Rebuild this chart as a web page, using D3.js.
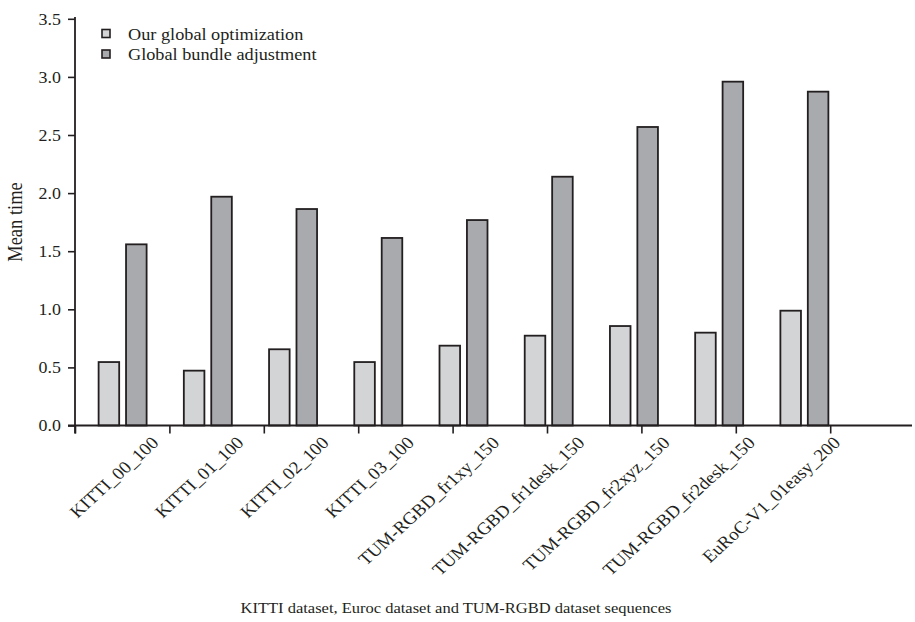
<!DOCTYPE html>
<html>
<head>
<meta charset="utf-8">
<script src="https://cdn.jsdelivr.net/npm/d3@7"></script>
<style>
  html, body { margin: 0; padding: 0; background: #fff; }
  svg text { font-family: "Liberation Serif", "DejaVu Serif", serif; fill: #231f20; }
</style>
</head>
<body>
<svg id="chart" width="915" height="622"></svg>
<script>
// ---- data ----
const categories = ["KITTI_00_100", "KITTI_01_100", "KITTI_02_100", "KITTI_03_100",
  "TUM-RGBD_fr1xy_150", "TUM-RGBD_fr1desk_150", "TUM-RGBD_fr2xyz_150",
  "TUM-RGBD_fr2desk_150", "EuRoC-V1_01easy_200"];
const seriesNames = ["Our global optimization", "Global bundle adjustment"];
const ourGlobal = [0.546, 0.472, 0.656, 0.546, 0.687, 0.773, 0.856, 0.799, 0.988];
const globalBA  = [1.559, 1.969, 1.863, 1.614, 1.768, 2.141, 2.569, 2.959, 2.873];
const yTicks = [0.0, 0.5, 1.0, 1.5, 2.0, 2.5, 3.0, 3.5];
const xTickIndex = [0, 1, 2, 3, 4, 5, 6, 7, 8];
const yTitle = "Mean time";
const xTitle = "KITTI dataset, Euroc dataset and TUM-RGBD dataset sequences";

// ---- styles ----
const ink = "#231f20";
const fills = ["#d3d4d6", "#a9aaad"];
const SX = 1.1; // horizontal stretch of the original figure's lettering

const svg = d3.select("#chart");

const y = d3.scaleLinear().domain([0, 3.5]).range([425.5, 18.8]);
const x = d3.scaleBand().domain(categories).range([77, 844]).paddingInner(0).paddingOuter(0);
const sub = d3.scaleBand().domain(seriesNames).range([-21, 27]).paddingInner(0.25);
const xt = d3.scaleLinear().domain([0, 9]).range([75, 924.6]);

// bars
const rows = categories.map((c, i) => ({ cat: c, vals: [ourGlobal[i], globalBA[i]] }));
const g = svg.append("g");
rows.forEach(r => {
  r.vals.forEach((v, k) => {
    g.append("rect")
      .attr("x", x(r.cat) + x.bandwidth() / 2 + sub(seriesNames[k]))
      .attr("y", y(v))
      .attr("width", sub.bandwidth())
      .attr("height", y(0) - y(v))
      .attr("fill", fills[k])
      .attr("stroke", ink)
      .attr("stroke-width", 1.8);
  });
});

// y axis
const yAxis = d3.axisLeft(y).tickValues(yTicks).tickFormat(d3.format(".1f")).tickSize(7).tickPadding(6);
const ya = svg.append("g").attr("transform", "translate(75,0)").call(yAxis)
  .attr("font-family", null).attr("font-size", null);
ya.select(".domain").remove();
ya.selectAll(".tick line").attr("stroke", ink).attr("stroke-width", 1.6);
ya.selectAll(".tick text")
  .attr("x", -14 / SX)
  .attr("transform", `scale(${SX},1)`)
  .attr("font-size", 16.3)
  .attr("fill", ink);
svg.append("line").attr("x1", 75).attr("x2", 75).attr("y1", 17).attr("y2", 433.5)
  .attr("stroke", ink).attr("stroke-width", 1.8);

// x axis
const xAxis = d3.axisBottom(xt).tickValues(xTickIndex).tickFormat("").tickSize(8).tickSizeOuter(0);
const xa = svg.append("g").attr("transform", "translate(0,425.5)").call(xAxis);
xa.select(".domain").remove();
xa.selectAll(".tick line").attr("stroke", ink).attr("stroke-width", 1.6);
svg.append("line").attr("x1", 68).attr("x2", 912).attr("y1", 425.5).attr("y2", 425.5)
  .attr("stroke", ink).attr("stroke-width", 1.8);

// category labels
svg.append("g").selectAll("text").data(categories).join("text")
  .attr("transform", d => `translate(${x(d) + x.bandwidth() / 2 + 40},444) scale(${SX},1) rotate(-45)`)
  .attr("text-anchor", "end")
  .attr("font-size", 17.3)
  .text(d => d);

// axis titles
svg.append("text")
  .attr("transform", `translate(22,222) scale(${SX},1) rotate(-90)`)
  .attr("text-anchor", "middle")
  .attr("font-size", 18.5)
  .text(yTitle);
svg.append("text")
  .attr("transform", `translate(456,613) scale(${SX},1)`)
  .attr("text-anchor", "middle")
  .attr("font-size", 15)
  .text(xTitle);

// legend
const leg = svg.append("g");
seriesNames.forEach((s, k) => {
  const cy = 33.5 + k * 20.5;
  leg.append("rect").attr("x", 102).attr("y", cy - 4).attr("width", 8).attr("height", 8)
    .attr("fill", fills[k]).attr("stroke", ink).attr("stroke-width", 1.6);
  leg.append("text").attr("transform", `translate(128,${cy + 6}) scale(${SX},1)`)
    .attr("font-size", 16.6).text(s);
});
</script>
</body>
</html>
